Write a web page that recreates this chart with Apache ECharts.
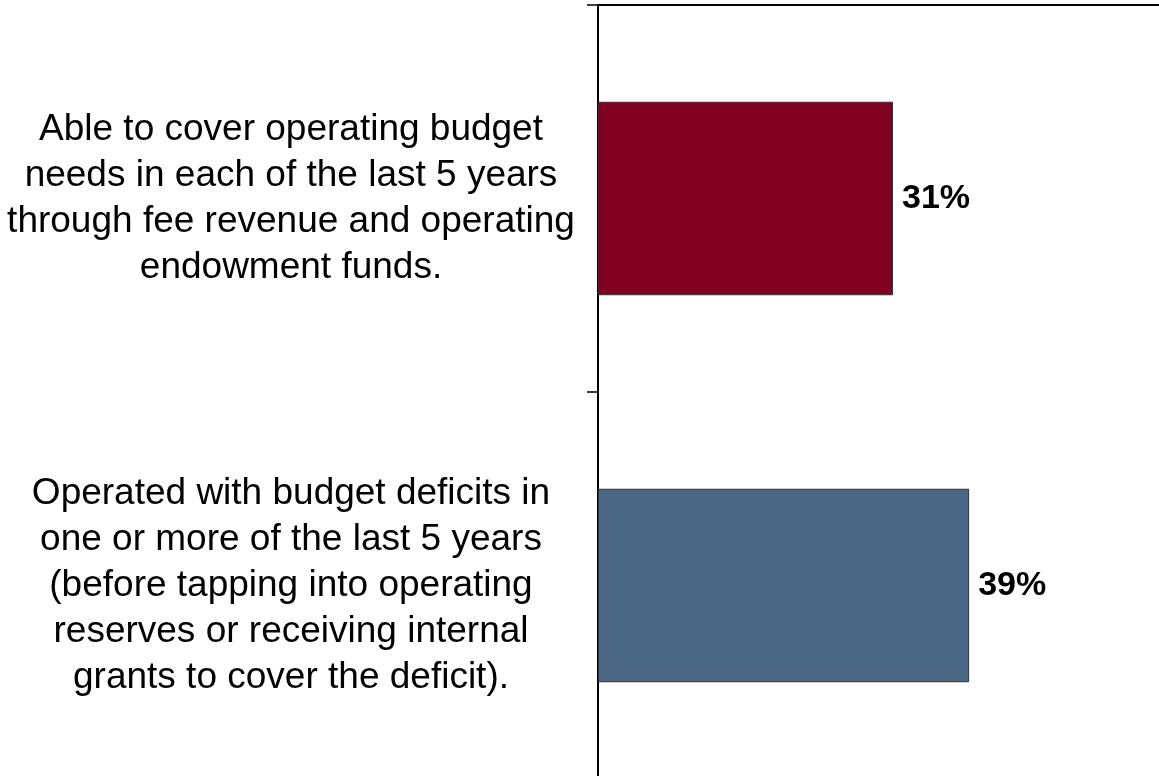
<!DOCTYPE html>
<html>
<head>
<meta charset="utf-8">
<script src="https://cdn.jsdelivr.net/npm/echarts@6/dist/echarts.min.js"></script>
<style>
html,body{margin:0;padding:0;background:#fff;overflow:hidden;}
#chart{width:1159px;height:776px;}
</style>
</head>
<body>
<div id="chart"></div>
<script>
const categories = [
  "Able to cover operating budget\nneeds in each of the last 5 years\nthrough fee revenue and operating\nendowment funds.",
  "Operated with budget deficits in\none or more of the last 5 years\n(before tapping into operating\nreserves or receiving internal\ngrants to cover the deficit)."
];
const values = [31, 39];
const barColors = ["#800022", "#4A6784"];

const chart = echarts.init(document.getElementById('chart'));
chart.setOption({
  animation: false,
  backgroundColor: '#ffffff',
  grid: { left: 598, width: 571, top: 5, height: 774, containLabel: false, outerBoundsMode: 'none' },
  xAxis: {
    type: 'value',
    position: 'top',
    min: 0,
    max: 60,
    axisLine: { show: true, lineStyle: { color: '#000', width: 2 } },
    axisTick: { show: false },
    axisLabel: { show: false },
    splitLine: { show: false }
  },
  yAxis: {
    type: 'category',
    inverse: true,
    data: categories,
    axisLine: { show: true, lineStyle: { color: '#000', width: 2 } },
    axisTick: { show: true, length: 11, lineStyle: { color: '#000', width: 1.5 } },
    axisLabel: {
      margin: 307,
      align: 'center',
      padding: [6, 0, 0, 0],
      fontFamily: '"Liberation Sans", Arial, sans-serif',
      fontSize: 37,
      lineHeight: 46,
      color: '#000'
    }
  },
  series: [{
    type: 'bar',
    barWidth: '50%',
    data: values.map((v, i) => ({ value: v, itemStyle: { color: barColors[i] } })),
    itemStyle: { borderColor: '#333', borderWidth: 1 },
    label: {
      show: true,
      position: 'right',
      distance: 9,
      formatter: '{c}%',
      fontFamily: '"Liberation Sans", Arial, sans-serif',
      fontWeight: 'bold',
      fontSize: 34,
      color: '#000'
    }
  }]
});
</script>
</body>
</html>
